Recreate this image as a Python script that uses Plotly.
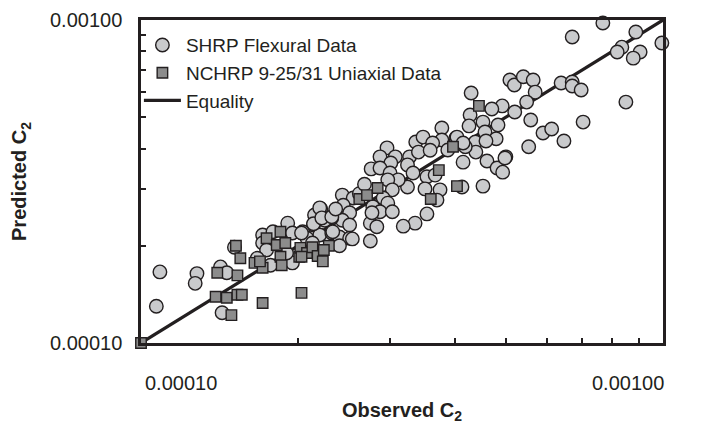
import plotly.graph_objects as go

# SHRP Flexural Data (observed, predicted)
shrp_obs = [7.67e-4, 6.70e-4, 8.87e-4, 8.34e-4, 8.17e-4, 9.04e-4, 8.77e-4, 9.95e-4,
            5.09e-4, 5.19e-4, 5.40e-4, 5.64e-4, 5.69e-4, 5.48e-4, 5.20e-4, 4.92e-4, 4.70e-4, 4.29e-4,
            6.38e-4, 6.70e-4, 6.70e-4, 6.97e-4, 8.49e-4, 7.03e-4, 5.58e-4, 5.89e-4, 6.12e-4, 6.46e-4, 5.53e-4, 5.00e-4,
            4.83e-4, 4.52e-4, 4.27e-4, 4.25e-4, 4.56e-4, 4.79e-4, 4.37e-4, 4.58e-4, 4.38e-4, 4.60e-4, 4.18e-4, 4.01e-4,
            3.77e-4, 3.77e-4, 4.14e-4, 3.36e-4, 3.47e-4, 3.62e-4, 3.87e-4, 4.03e-4, 4.14e-4, 4.81e-4, 4.93e-4, 4.98e-4,
            3.27e-4, 3.24e-4, 3.32e-4, 3.53e-4, 3.66e-4, 3.74e-4, 3.50e-4, 3.24e-4, 4.52e-4, 4.12e-4, 3.69e-4,
            2.96e-4, 2.87e-4, 3.07e-4, 3.01e-4, 2.76e-4, 2.87e-4, 3.00e-4, 3.11e-4, 2.97e-4, 3.03e-4, 2.91e-4, 2.97e-4,
            2.78e-4, 2.87e-4, 3.03e-4, 2.75e-4, 2.83e-4, 2.77e-4, 3.53e-4, 3.35e-4, 3.18e-4, 2.75e-4,
            2.43e-4, 2.55e-4, 2.44e-4, 2.51e-4, 2.43e-4, 2.51e-4, 2.21e-4, 2.15e-4, 2.32e-4, 2.25e-4, 2.14e-4, 2.04e-4,
            2.20e-4, 2.32e-4, 2.40e-4, 2.51e-4, 2.40e-4, 2.08e-4, 2.13e-4, 2.54e-4,
            1.087e-4, 1.07e-4, 1.28e-4, 1.27e-4, 1.42e-4, 1.46e-4, 1.43e-4, 1.51e-4, 1.71e-4, 1.71e-4, 1.74e-4, 1.79e-4,
            1.91e-4, 1.95e-4, 2.03e-4, 1.95e-4, 2.20e-4, 2.14e-4, 2.22e-4, 2.32e-4, 2.33e-4, 1.90e-4, 1.77e-4, 1.67e-4,
            2.62e-4, 2.68e-4, 3.40e-4, 3.58e-4, 2.36e-4]
shrp_pred = [9.79e-4, 8.86e-4, 9.18e-4, 8.24e-4, 7.96e-4, 7.96e-4, 7.62e-4, 8.49e-4,
             6.52e-4, 6.29e-4, 6.67e-4, 6.52e-4, 5.98e-4, 5.57e-4, 5.19e-4, 5.42e-4, 5.30e-4, 5.94e-4,
             6.38e-4, 6.43e-4, 6.25e-4, 6.07e-4, 5.57e-4, 4.83e-4, 4.90e-4, 4.47e-4, 4.60e-4, 4.22e-4, 4.05e-4, 3.77e-4,
             4.73e-4, 4.83e-4, 5.08e-4, 4.70e-4, 4.50e-4, 4.29e-4, 4.19e-4, 4.22e-4, 3.90e-4, 3.66e-4, 4.05e-4, 4.31e-4,
             4.63e-4, 4.25e-4, 3.63e-4, 4.19e-4, 4.34e-4, 4.16e-4, 3.96e-4, 4.34e-4, 4.16e-4, 3.48e-4, 3.38e-4, 3.74e-4,
             3.77e-4, 3.56e-4, 3.36e-4, 3.27e-4, 3.31e-4, 2.98e-4, 3.00e-4, 3.04e-4, 3.06e-4, 3.04e-4, 2.77e-4,
             4.02e-4, 3.77e-4, 3.77e-4, 3.61e-4, 3.46e-4, 3.48e-4, 3.36e-4, 3.20e-4, 3.20e-4, 2.98e-4, 2.81e-4, 2.71e-4,
             2.64e-4, 2.55e-4, 2.55e-4, 2.35e-4, 2.29e-4, 2.53e-4, 2.51e-4, 2.35e-4, 2.30e-4, 2.07e-4,
             2.87e-4, 2.81e-4, 2.67e-4, 2.53e-4, 2.40e-4, 2.32e-4, 2.60e-4, 2.49e-4, 2.44e-4, 2.40e-4, 2.32e-4, 2.21e-4,
             2.16e-4, 2.19e-4, 2.13e-4, 2.11e-4, 2.00e-4, 2.11e-4, 2.04e-4, 2.10e-4,
             1.66e-4, 1.30e-4, 1.64e-4, 1.53e-4, 1.72e-4, 1.65e-4, 1.24e-4, 1.98e-4, 2.16e-4, 2.04e-4, 1.94e-4, 2.21e-4,
             2.35e-4, 2.19e-4, 2.19e-4, 1.77e-4, 2.62e-4, 2.34e-4, 2.44e-4, 2.46e-4, 2.21e-4, 1.90e-4, 1.74e-4, 1.83e-4,
             2.90e-4, 3.10e-4, 3.90e-4, 3.95e-4, 2.60e-4]

# NCHRP 9-25/31 Uniaxial Data (observed, predicted)
nchrp_obs = [1.00e-4, 1.39e-4, 1.46e-4, 1.53e-4, 1.56e-4, 1.40e-4, 1.53e-4, 1.49e-4, 1.71e-4, 2.03e-4,
             1.52e-4, 1.55e-4, 1.65e-4, 1.71e-4, 1.69e-4, 1.74e-4, 1.85e-4, 1.82e-4, 1.89e-4, 1.85e-4,
             1.86e-4, 2.01e-4, 2.02e-4, 2.08e-4, 2.13e-4, 2.18e-4, 2.23e-4, 2.29e-4, 2.24e-4, 2.03e-4,
             2.62e-4, 2.71e-4, 2.84e-4, 3.72e-4, 3.96e-4, 4.03e-4, 3.59e-4, 4.44e-4]
nchrp_pred = [1.00e-4, 1.39e-4, 1.38e-4, 1.41e-4, 1.41e-4, 1.65e-4, 1.62e-4, 1.22e-4, 1.33e-4, 1.43e-4,
              2.00e-4, 1.83e-4, 1.77e-4, 1.71e-4, 1.79e-4, 2.11e-4, 2.21e-4, 2.01e-4, 2.04e-4, 1.85e-4,
              1.74e-4, 1.85e-4, 1.97e-4, 1.90e-4, 1.98e-4, 1.86e-4, 1.79e-4, 2.00e-4, 1.94e-4, 1.85e-4,
              2.79e-4, 2.87e-4, 3.02e-4, 3.43e-4, 4.05e-4, 3.06e-4, 2.79e-4, 5.42e-4]

equality = [1e-4, 1e-3]

major_vals = [1e-4, 1e-3]
minor_vals = [2e-4, 3e-4, 4e-4, 5e-4, 6e-4, 7e-4, 8e-4, 9e-4]
label_text = ["0.00010", "0.00100"]

dark = "#231f20"
FONT = "Liberation Sans, Arial, sans-serif"

fig = go.Figure()
fig.add_trace(go.Scatter(x=equality, y=equality, mode="lines", name="Equality",
                         line=dict(color=dark, width=3.2), legendrank=3, cliponaxis=False))
fig.add_trace(go.Scatter(x=shrp_obs, y=shrp_pred, mode="markers", name="SHRP Flexural Data",
                         marker=dict(symbol="circle", size=13.5, color="#c9cacc",
                                     line=dict(color=dark, width=1.4)),
                         legendrank=1, cliponaxis=False))
fig.add_trace(go.Scatter(x=nchrp_obs, y=nchrp_pred, mode="markers", name="NCHRP 9-25/31 Uniaxial Data",
                         marker=dict(symbol="square", size=10.5, color="#8c8c8c",
                                     line=dict(color=dark, width=1.4)),
                         legendrank=2, cliponaxis=False))

axis_common = dict(type="log", range=[-4, -3], tickmode="array", tickvals=major_vals,
                   ticks="inside", ticklen=5, tickwidth=2, tickcolor=dark,
                   minor=dict(tickmode="array", tickvals=minor_vals, ticks="inside",
                              ticklen=5, tickwidth=2, tickcolor=dark, showgrid=False),
                   showline=True, linecolor=dark, linewidth=2.5, mirror=True,
                   showgrid=False, zeroline=False)

# the page body adds an 8 px offset; the figure is sized so the plot area sits
# at x 141-663, y 20-343 of the 702x424 window
fig.update_layout(
    width=694, height=416,
    margin=dict(l=133, r=39, t=12, b=81, autoexpand=False),
    paper_bgcolor="white", plot_bgcolor="white",
    showlegend=True,
    legend=dict(x=-0.004, y=0.981, xanchor="left", yanchor="top",
                bgcolor="rgba(0,0,0,0)", borderwidth=0, itemwidth=37,
                font=dict(family=FONT, size=19, color=dark),
                tracegroupgap=0),
    xaxis=dict(**axis_common, showticklabels=False,
               title=dict(text="<b>Observed C<sub>2</sub></b>",
                          font=dict(family=FONT, size=20, color=dark), standoff=59)),
    yaxis=dict(**axis_common, ticktext=label_text, showticklabels=True,
               ticklabelstandoff=12,
               tickfont=dict(family=FONT, size=20, color=dark),
               title=dict(text="<b>Predicted C<sub>2</sub></b>",
                          font=dict(family=FONT, size=20, color=dark), standoff=18)),
)

# x tick labels (placed inward from the decade ticks as in the original)
fig.add_annotation(x=0, xref="paper", y=0, yref="paper", text=label_text[0],
                   xanchor="left", yanchor="middle", xshift=2, yshift=-40, showarrow=False,
                   font=dict(family=FONT, size=20, color=dark))
fig.add_annotation(x=1, xref="paper", y=0, yref="paper", text=label_text[1],
                   xanchor="right", yanchor="middle", xshift=3, yshift=-40, showarrow=False,
                   font=dict(family=FONT, size=20, color=dark))

fig.write_html("out.html")
